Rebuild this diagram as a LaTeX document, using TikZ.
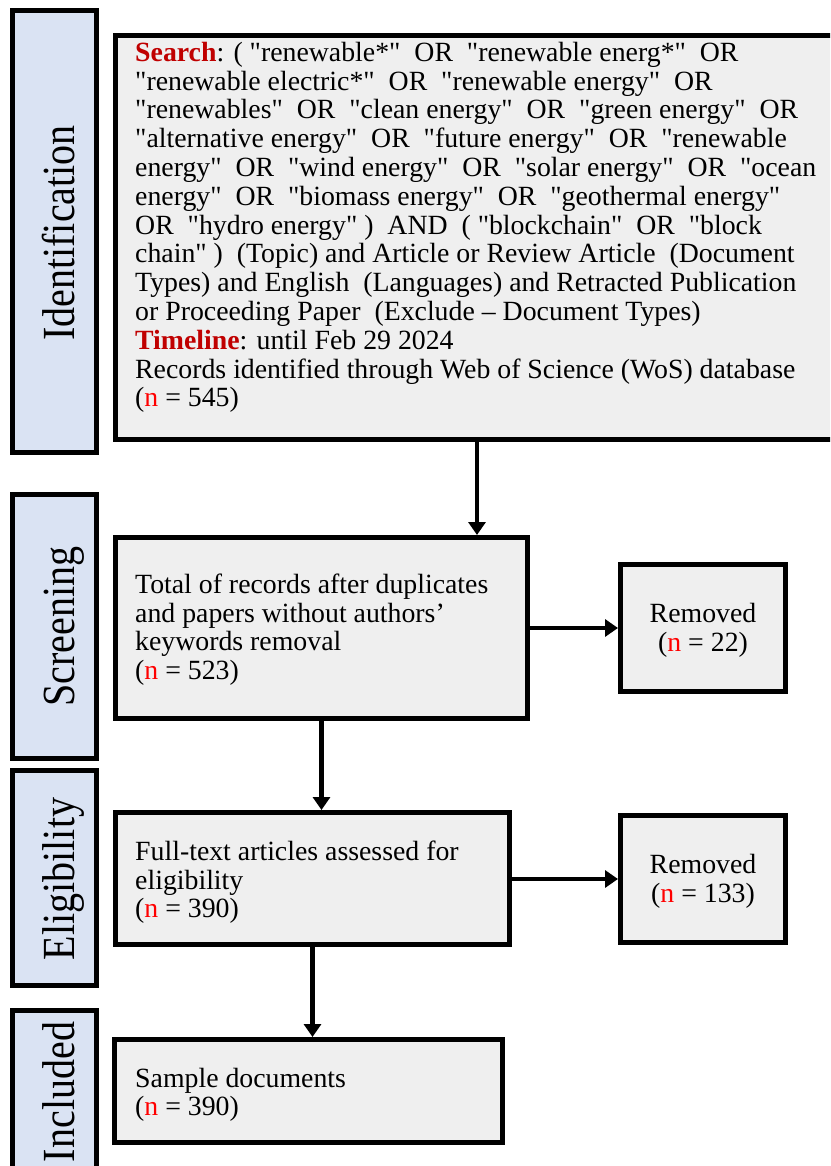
\documentclass[tikz,border=0pt]{standalone}
\usepackage{fontspec}
% plain font family: quotes stay straight
\newfontfamily\bodyfont{Liberation Serif}
\newfontfamily\stagefont{Liberation Serif}[FakeStretch=0.87]
\usetikzlibrary{arrows.meta}

\definecolor{stagefill}{RGB}{218,227,243}
\definecolor{boxfill}{RGB}{239,239,239}
\definecolor{kwred}{RGB}{192,0,0}
\definecolor{nred}{RGB}{255,0,0}
\newcommand{\nn}{\textcolor{nred}{n}}
\newcommand{\kw}[1]{\textcolor{kwred}{\bfseries #1}}
% fixed height for the first line of every text block
\newcommand{\firstline}{\rule{0pt}{25pt}}

\begin{document}
\begin{tikzpicture}[x=1pt,y=-1pt,
  stage/.style={draw=black, line width=5pt, fill=stagefill, inner sep=0pt},
  flowbox/.style={draw=black, line width=5pt, fill=boxfill, inner sep=0pt},
  stagelabel/.style={font=\stagefont\fontsize{46}{50}\selectfont, rotate=90, anchor=base, inner sep=0pt},
  body/.style={font=\bodyfont\fontsize{27.8}{28.8}\selectfont, align=left, anchor=north west, inner sep=0pt},
  note/.style={font=\bodyfont\fontsize{27.8}{29.5}\selectfont, align=center, anchor=north, inner sep=0pt},
  link/.style={line width=4.5pt, -{Triangle[width=17pt,length=13pt]}}
]
\useasboundingbox (0,0) rectangle (830,1166);
\clip (0,0) rectangle (830,1166);

% stage column
\node[stage, minimum width=84pt, minimum height=442pt] (sid)  at (54.5,231.5) {};
\node[stage, minimum width=84pt, minimum height=264pt] (sscr) at (54.5,626.5) {};
\node[stage, minimum width=84pt, minimum height=215pt] (sel)  at (54.5,878) {};
\node[stage, minimum width=84pt, minimum height=167pt] (sinc) at (54.5,1094) {};
\node[stagelabel] (lid)  at (74,233) {Identification};
\node[stagelabel] (lscr) at (74,626.5) {Screening};
\node[stagelabel] (lel)  at (74,879) {Eligibility};
\node[stagelabel] (linc) at (74,1092) {Included};

% flow boxes
\node[flowbox, minimum width=723pt, minimum height=404pt] (records) at (477,237.5) {};
\node[flowbox, minimum width=412pt, minimum height=181pt] (screen)  at (321.5,628) {};
\node[flowbox, minimum width=165pt, minimum height=127pt] (rem1)    at (703,628) {};
\node[flowbox, minimum width=394pt, minimum height=132pt] (elig)    at (312.5,878.5) {};
\node[flowbox, minimum width=165pt, minimum height=127pt] (rem2)    at (703,879) {};
\node[flowbox, minimum width=388pt, minimum height=103pt] (incl)    at (308.5,1091) {};

% box texts
\node[body] (recordstext) at (135,36) {\firstline\kw{Search}: ( "renewable*"~ OR~ "renewable energ*"~ OR\\
"renewable electric*"~ OR~ "renewable energy"~ OR\\
"renewables"~ OR~ "clean energy"~ OR~ "green energy"~ OR\\
"alternative energy"~ OR~ "future energy"~ OR~ "renewable\\
energy"~ OR~ "wind energy"~ OR~ "solar energy"~ OR~ "ocean\\
energy"~ OR~ "biomass energy"~ OR~ "geothermal energy"\\
OR~ "hydro energy" )~ AND~ ( "blockchain"~ OR~ "block\\
chain" )~ (Topic) and Article or Review Article~ (Document\\
Types) and English~ (Languages) and Retracted Publication\\
or Proceeding Paper~ (Exclude – Document Types)\\
\kw{Timeline}: until Feb 29 2024\\
Records identified through Web of Science (WoS) database\\
(\nn{} = 545)};

\node[body] (screentext) at (135,568) {\firstline Total of records after duplicates\\
and papers without authors’\\
keywords removal\\
(\nn{} = 523)};

\node[note] (rem1text) at (703,597) {\firstline Removed\\(\nn{} = 22)};

\node[body] (eligtext) at (135,835) {\firstline Full-text articles assessed for\\
eligibility\\
(\nn{} = 390)};

\node[note] (rem2text) at (703,848) {\firstline Removed\\(\nn{} = 133)};

\node[body, font=\bodyfont\fontsize{27.8}{28}\selectfont] (incltext) at (135,1062) {\firstline Sample documents\\
(\nn{} = 390)};

% connectors
\draw[link] (records.south) -- (records.south |- screen.north);
\draw[link] (screen.east) -- (rem1.west);
\draw[link] (screen.south) -- (screen.south |- elig.north);
\draw[link] (elig.east |- rem2.west) -- (rem2.west);
\draw[link] (elig.south) -- (elig.south |- incl.north);
\end{tikzpicture}
\end{document}
